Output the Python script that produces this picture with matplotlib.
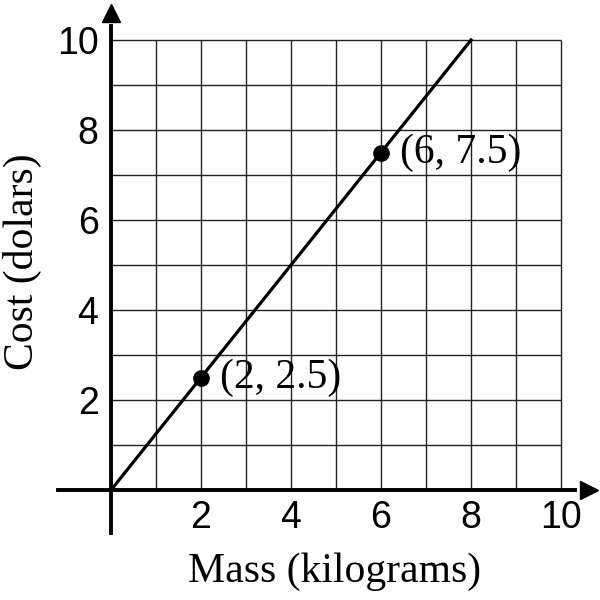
import matplotlib.pyplot as plt
import numpy as np

# data
line_x = [0, 8]
line_y = [0, 10]
pts_x = [2, 6]
pts_y = [2.5, 7.5]
pt_labels = ["(2, 2.5)", "(6, 7.5)"]
ticks = [2, 4, 6, 8, 10]
grid_vals = list(range(1, 11))

fig = plt.figure(figsize=(6, 6), dpi=100)
ax = fig.add_axes([0, 0, 1, 1])
ax.set_xlim(-111 / 45, 489 / 45)
ax.set_ylim(-110 / 45, 490 / 45)
for s in ["top", "right"]:
    ax.spines[s].set_visible(False)
ax.spines["left"].set_position(("data", 0))
ax.spines["bottom"].set_position(("data", 0))
ax.spines["left"].set_bounds(-0.95, 10.3)
ax.spines["bottom"].set_bounds(-1.18, 10.3)
for s in ["left", "bottom"]:
    ax.spines[s].set_linewidth(2.8)
    ax.spines[s].set_zorder(4)

# grid only inside 0..10
ax.vlines(grid_vals, 0, 10, color="#222222", lw=1.0, zorder=1)
ax.hlines(grid_vals, 0, 10, color="#222222", lw=1.0, zorder=1)

# arrow heads
ax.plot([10.62], [0], marker=">", ms=13, color="black", clip_on=False, zorder=5)
ax.plot([0], [10.6], marker="^", ms=13, color="black", clip_on=False, zorder=5)

ax.set_xticks(ticks)
ax.set_yticks(ticks)
ax.tick_params(length=0, labelsize=27)
ax.tick_params(axis="x", pad=7)
ax.tick_params(axis="y", pad=9)
for lab in ax.get_xticklabels() + ax.get_yticklabels():
    lab.set_fontfamily("Liberation Sans")

ax.plot(line_x, line_y, color="black", lw=2.3, zorder=3)
ax.plot(pts_x, pts_y, "o", color="black", ms=11, zorder=6)
for x, y, t in zip(pts_x, pts_y, pt_labels):
    ax.text(x + 0.42, y, t, fontsize=30, family="Liberation Serif",
            va="center", ha="left", zorder=7)

fig.text(335 / 600, 1 - 572 / 600, "Mass (kilograms)", fontsize=30,
         family="Liberation Serif", ha="center", va="center")
fig.text(22 / 600, 1 - 262 / 600, "Cost (dolars)", fontsize=30,
         family="Liberation Serif", ha="center", va="center", rotation=90)

fig.savefig("out.png", dpi=100)
